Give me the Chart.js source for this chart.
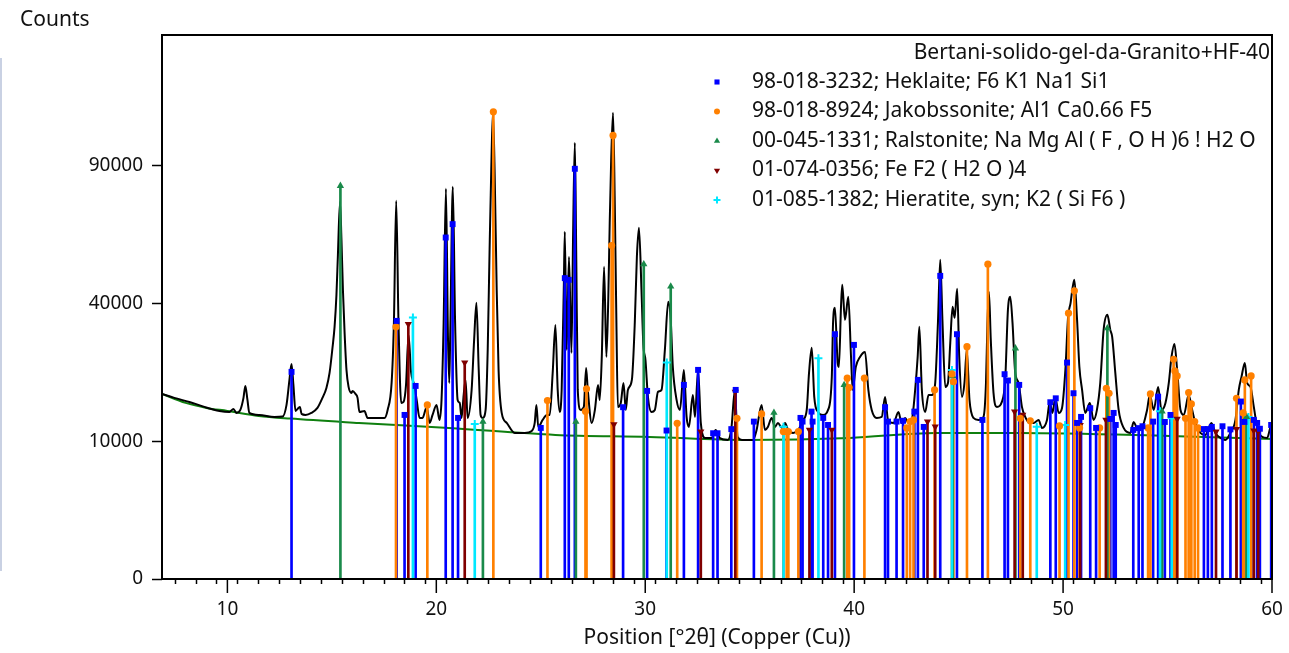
<!DOCTYPE html>
<html>
<head>
<meta charset="utf-8">
<title>XRD pattern</title>
<script src="https://cdn.jsdelivr.net/npm/chart.js@4.4.1/dist/chart.umd.min.js"></script>
<style>
  html, body { margin: 0; padding: 0; background: #fff; }
  canvas { display: block; }
</style>
</head>
<body>
<canvas id="xrd" width="1289" height="653"></canvas>
<script>
// measured profile, position in °2θ and counts
const profilePos = [6.87, 7.46, 8.18, 8.90, 9.62, 10.10, 10.29, 10.43, 10.62, 10.77, 10.86, 10.96, 11.05, 11.53, 12.25, 12.64, 12.83, 12.97, 13.07, 13.16, 13.26, 13.40, 13.47, 13.55, 13.74, 14.02, 14.31, 14.55, 14.74, 14.89, 15.03, 15.13, 15.22, 15.29, 15.39, 15.46, 15.53, 15.61, 15.70, 15.80, 15.94, 15.99, 16.13, 16.23, 16.32, 16.56, 16.71, 17.52, 17.67, 17.86, 17.97, 18.08, 18.19, 18.32, 18.43, 18.55, 18.67, 18.79, 18.94, 19.06, 19.20, 19.34, 19.54, 19.68, 19.82, 20.01, 20.15, 20.25, 20.35, 20.46, 20.56, 20.62, 20.67, 20.79, 20.90, 21.02, 21.12, 21.21, 21.31, 21.40, 21.50, 21.69, 21.81, 21.92, 22.03, 22.12, 22.22, 22.36, 22.46, 22.55, 22.63, 22.71, 22.79, 22.89, 22.98, 23.13, 23.37, 23.75, 24.23, 24.57, 24.71, 24.79, 24.88, 25.09, 25.29, 25.43, 25.57, 25.70, 25.81, 25.91, 26.00, 26.10, 26.15, 26.24, 26.35, 26.47, 26.55, 26.63, 26.70, 26.77, 26.91, 27.06, 27.17, 27.25, 27.44, 27.59, 27.74, 27.82, 27.92, 28.03, 28.14, 28.23, 28.30, 28.37, 28.46, 28.54, 28.62, 28.69, 28.83, 28.96, 29.07, 29.17, 29.36, 29.50, 29.60, 29.70, 29.82, 29.91, 30.01, 30.13, 30.30, 30.46, 30.61, 30.78, 30.94, 31.10, 31.22, 31.32, 31.50, 31.66, 31.85, 31.98, 32.09, 32.28, 32.38, 32.53, 32.66, 32.86, 33.18, 33.37, 33.57, 33.96, 34.13, 34.29, 34.42, 34.63, 35.16, 35.33, 35.57, 35.73, 35.87, 36.05, 36.21, 36.35, 36.55, 36.69, 36.84, 37.08, 37.32, 37.56, 37.73, 37.84, 37.97, 38.09, 38.27, 38.51, 38.75, 38.93, 38.99, 39.08, 39.21, 39.27, 39.37, 39.43, 39.56, 39.72, 39.85, 39.93, 40.08, 40.28, 40.52, 40.68, 40.84, 41.08, 41.32, 41.48, 41.62, 41.88, 42.12, 42.27, 42.44, 42.60, 42.76, 42.92, 43.04, 43.12, 43.24, 43.40, 43.56, 43.73, 43.88, 44.01, 44.12, 44.23, 44.36, 44.49, 44.60, 44.71, 44.81, 44.93, 45.03, 45.16, 45.28, 45.39, 45.52, 45.71, 45.95, 46.19, 46.31, 46.38, 46.45, 46.54, 46.67, 46.83, 47.07, 47.23, 47.36, 47.47, 47.58, 47.71, 47.87, 48.03, 48.19, 48.38, 48.59, 48.83, 48.99, 49.23, 49.36, 49.49, 49.63, 49.79, 49.95, 50.11, 50.24, 50.36, 50.44, 50.54, 50.67, 50.78, 50.91, 51.06, 51.28, 51.46, 51.62, 51.78, 51.94, 52.12, 52.26, 52.35, 52.50, 52.66, 52.90, 53.22, 53.38, 53.54, 53.78, 54.02, 54.15, 54.34, 54.55, 54.71, 54.90, 55.06, 55.19, 55.33, 55.46, 55.62, 55.78, 56.01, 56.18, 56.33, 56.57, 56.81, 57.10, 57.29, 57.53, 57.77, 58.01, 58.25, 58.41, 58.54, 58.70, 58.81, 58.97, 59.13, 59.29, 59.53, 59.77, 59.93, 60.00];
const profileCounts = [18060, 17290, 16530, 15610, 14890, 14716, 15250, 14540, 15070, 17290, 19655, 16907, 14540, 14190, 13850, 13900, 15975, 20896, 24390, 19860, 14890, 15430, 15610, 14370, 14190, 14540, 15430, 17290, 19250, 22390, 28160, 33510, 42560, 55390, 75000, 60640, 44070, 31930, 23050, 19450, 18255, 18650, 18060, 17290, 14716, 14890, 13680, 13680, 15070, 20270, 34580, 75390, 34580, 16345, 16530, 19860, 31415, 22610, 19860, 16907, 13680, 13680, 15610, 12840, 14190, 15975, 13340, 16907, 34580, 80260, 30140, 20270, 32720, 81080, 34580, 16907, 16345, 13680, 17865, 20896, 13680, 18850, 30140, 40195, 23050, 14190, 13680, 15070, 27670, 57110, 88270, 115080, 88270, 44070, 23050, 14540, 12840, 11250, 11250, 11560, 12840, 15975, 12190, 13340, 14190, 14190, 22390, 34040, 18850, 14716, 18850, 44070, 63540, 27670, 54710, 26950, 64270, 100300, 53700, 18850, 15070, 15610, 23490, 18850, 12840, 15070, 19860, 16907, 26005, 51360, 26005, 41070, 66870, 92640, 114590, 75800, 34580, 15610, 16345, 20270, 15070, 18850, 20896, 34580, 54710, 65010, 44070, 28890, 25310, 17480, 14716, 15070, 18450, 18850, 27670, 40490, 35400, 23715, 16907, 15070, 23050, 13850, 12190, 17865, 13850, 23050, 12840, 10490, 10490, 11715, 10490, 10195, 12190, 18850, 10640, 10195, 10195, 11715, 15975, 11715, 12190, 13680, 12190, 12840, 12030, 12840, 11715, 11250, 11715, 13340, 15070, 22390, 28160, 17480, 14716, 14190, 15070, 21530, 34580, 38750, 24620, 23715, 39040, 45610, 35400, 41960, 26005, 18850, 23715, 26005, 27190, 18850, 15070, 13680, 13850, 17480, 13340, 12840, 14716, 12840, 13680, 12840, 13340, 18850, 26005, 33510, 18850, 14716, 17865, 17865, 20270, 34580, 53700, 34580, 19450, 20270, 29390, 39040, 35950, 44380, 26005, 17480, 20270, 27670, 16907, 13680, 13340, 13850, 20270, 34580, 43460, 30140, 18255, 15610, 16530, 20896, 38180, 41960, 34580, 22390, 20270, 15610, 13850, 12840, 12840, 13340, 12030, 13340, 16530, 14540, 17290, 14540, 15430, 23050, 36220, 40195, 44070, 47170, 35400, 23715, 18850, 14540, 16345, 13340, 15070, 20270, 32720, 36780, 32720, 30900, 22390, 15070, 12030, 11250, 13010, 12030, 12190, 15070, 17865, 15070, 19450, 15070, 16345, 20270, 26005, 29140, 23050, 15070, 14190, 17865, 15070, 12840, 11250, 10940, 12840, 11250, 10490, 10195, 11250, 13340, 18850, 21530, 24620, 20270, 19450, 15610, 12190, 10640, 10490, 12190, 12500];

// fitted background
const backgroundPos = [6.87, 8.0, 9.0, 10.0, 11.5, 13.0, 16.3, 20.6, 25.7, 30.2, 34.8, 39.8, 43.9, 47.9, 55.1, 60.0];
const backgroundCounts = [18060, 16350, 15430, 14890, 14020, 13560, 12840, 12030, 10940, 10640, 10195, 10490, 11250, 11250, 10790, 10340];

// reference patterns (stick position, marker height in counts)
const heklaitePos = [13.07, 18.10, 18.48, 19.01, 20.45, 20.78, 21.04, 25.00, 26.15, 26.34, 26.63, 28.94, 30.09, 31.02, 31.85, 32.53, 33.25, 33.46, 34.12, 34.33, 35.20, 37.43, 37.53, 37.96, 38.01, 38.52, 38.75, 39.08, 39.99, 41.48, 41.62, 42.03, 42.34, 42.88, 43.05, 43.33, 44.12, 44.92, 46.14, 47.20, 47.36, 47.90, 49.39, 49.65, 50.19, 50.50, 50.67, 50.86, 51.30, 51.58, 52.26, 52.42, 52.52, 53.36, 53.62, 53.80, 54.31, 54.55, 54.87, 55.14, 56.74, 56.93, 57.12, 57.63, 58.01, 58.51, 58.68, 59.13, 59.29, 59.42, 59.96];
const heklaiteCounts = [22610, 35120, 14190, 19650, 61470, 66380, 13680, 12030, 47710, 47170, 88700, 15560, 18650, 11620, 19860, 23050, 11200, 11200, 11840, 18850, 13060, 13680, 13060, 14770, 13060, 13680, 12510, 31590, 28890, 15560, 13060, 13060, 13200, 14770, 20900, 12190, 48440, 31590, 13340, 22110, 20770, 19860, 16470, 17210, 24690, 18190, 12840, 13850, 15380, 12030, 13500, 14540, 12510, 11720, 12000, 12300, 13060, 17520, 13000, 14190, 11850, 11850, 12200, 12300, 11800, 16600, 13000, 13340, 12840, 11900, 12510];

const jakobssonitePos = [18.07, 19.57, 22.73, 25.32, 27.14, 27.19, 28.39, 28.46, 31.53, 34.39, 35.57, 36.61, 36.77, 36.85, 37.33, 39.67, 39.76, 40.49, 42.52, 42.68, 42.84, 43.85, 44.68, 44.75, 45.40, 46.40, 47.95, 48.43, 49.83, 50.26, 50.54, 50.79, 51.75, 52.07, 52.20, 54.07, 54.18, 55.29, 55.35, 55.46, 55.86, 56.01, 56.14, 56.30, 56.46, 58.30, 58.62, 58.70, 59.00];
const jakobssoniteCounts = [33510, 15975, 115080, 16790, 14820, 19060, 58620, 103700, 12790, 13620, 14360, 11450, 11450, 11450, 11450, 21250, 19330, 21250, 12030, 13060, 13340, 18850, 22170, 20530, 28460, 52260, 13620, 13200, 12350, 37250, 43770, 12030, 12030, 19170, 18190, 12030, 18060, 25460, 22830, 21740, 13620, 18320, 16160, 13060, 12030, 17210, 14540, 20900, 21740];

const ralstonitePos = [15.41, 22.23, 26.68, 29.93, 31.22, 36.16, 39.52, 44.72, 47.72, 52.12, 54.74, 58.78];
const ralstoniteCounts = [81500, 13060, 13060, 52260, 45110, 14600, 19860, 21740, 28050, 33140, 14820, 13850];

const feF2Pos = [18.66, 21.36, 28.50, 32.66, 34.31, 37.86, 38.93, 43.51, 43.88, 47.68, 48.07, 50.82, 52.05, 55.46, 57.32, 58.30, 59.13, 59.34];
const feF2Counts = [34240, 24690, 12620, 11450, 18450, 11715, 11715, 13060, 12230, 14770, 14190, 12500, 13340, 13500, 11450, 11840, 11620, 11450];

const hieratitePos = [18.88, 21.84, 31.03, 36.62, 38.29, 44.68, 48.74, 50.10, 54.64, 55.20, 58.87];
const hieratiteCounts = [36040, 12680, 24690, 12230, 25680, 23050, 12230, 12510, 14820, 13620, 13850];

const phaseLabels = [
  '98-018-3232; Heklaite; F6 K1 Na1 Si1',
  '98-018-8924; Jakobssonite; Al1 Ca0.66 F5',
  '00-045-1331; Ralstonite; Na Mg Al ( F , O H )6 ! H2 O',
  '01-074-0356; Fe F2 ( H2 O )4',
  '01-085-1382; Hieratite, syn; K2 ( Si F6 )'
];
const sampleName = 'Bertani-solido-gel-da-Granito+HF-40';
const yTicks = [0, 10000, 40000, 90000];

const FONT = '"Noto Sans", "Open Sans", sans-serif';

// square-root intensity axis, as in the original software
class SqrtScale extends Chart.LinearScale {
  buildTicks() {
    return yTicks.map(v => ({ value: v }));
  }
  getPixelForValue(value) {
    if (value === null || isNaN(value)) return NaN;
    const lo = Math.sqrt(this.min), hi = Math.sqrt(this.max);
    return this.getPixelForDecimal((Math.sqrt(Math.max(value, 0)) - lo) / (hi - lo));
  }
  getValueForPixel(pixel) {
    const lo = Math.sqrt(this.min), hi = Math.sqrt(this.max);
    const s = lo + this.getDecimalForPixel(pixel) * (hi - lo);
    return s * s;
  }
}
SqrtScale.id = 'sqrt';
SqrtScale.defaults = {};
Chart.register(SqrtScale);

const toPoints = (xs, ys) => xs.map((x, i) => ({ x: x, y: ys[i] }));

const phases = [
  { pos: heklaitePos, counts: heklaiteCounts, color: '#0000ff', style: 'rect', radius: 4.2, rotation: 0 },
  { pos: jakobssonitePos, counts: jakobssoniteCounts, color: '#ff8000', style: 'circle', radius: 3.6, rotation: 0 },
  { pos: ralstonitePos, counts: ralstoniteCounts, color: '#1a8a4a', style: 'triangle', radius: 4.2, rotation: 0 },
  { pos: feF2Pos, counts: feF2Counts, color: '#800000', style: 'triangle', radius: 4.2, rotation: 180 },
  { pos: hieratitePos, counts: hieratiteCounts, color: '#00e8ff', style: 'cross', radius: 4, rotation: 0 }
];

const datasets = [];
phases.forEach((p, i) => {
  datasets.push({
    type: 'scatter',
    label: phaseLabels[i],
    data: toPoints(p.pos, p.counts),
    showLine: false,
    pointStyle: p.style,
    pointRadius: p.radius,
    pointRotation: p.rotation,
    pointBackgroundColor: p.color,
    pointBorderColor: p.color,
    pointBorderWidth: p.style === 'cross' ? 2 : 0,
    order: 0
  });
});
phases.forEach((p, i) => {
  datasets.push({
    type: 'bar',
    label: phaseLabels[i] + ' sticks',
    data: toPoints(p.pos, p.counts),
    backgroundColor: p.color,
    borderWidth: 0,
    barThickness: 2,
    grouped: false,
    order: 1 + (4 - i)
  });
});
datasets.push({
  type: 'line',
  label: sampleName,
  data: toPoints(profilePos, profileCounts),
  borderColor: '#000',
  borderWidth: 2,
  pointRadius: 0,
  cubicInterpolationMode: 'monotone',
  order: 10
});
datasets.push({
  type: 'line',
  label: 'Background',
  data: toPoints(backgroundPos, backgroundCounts),
  borderColor: '#0f7f0f',
  borderWidth: 2,
  pointRadius: 0,
  cubicInterpolationMode: 'monotone',
  order: 11
});

const decorations = {
  id: 'decorations',
  afterDraw(chart) {
    const { ctx, chartArea: a, scales } = chart;
    const x = scales.x;
    ctx.save();

    // plot frame
    ctx.strokeStyle = '#000';
    ctx.lineWidth = 2;
    ctx.strokeRect(a.left, a.top, a.right - a.left, a.bottom - a.top);

    // longer marks every 10 degrees
    ctx.lineWidth = 1.5;
    x.ticks.forEach(t => {
      if (t.value % 10 === 0) {
        const px = x.getPixelForValue(t.value);
        ctx.beginPath();
        ctx.moveTo(px, a.bottom);
        ctx.lineTo(px, a.bottom + 14);
        ctx.stroke();
      }
    });

    // thin line at the left edge of the original window
    ctx.strokeStyle = '#c9d1e3';
    ctx.lineWidth = 2;
    ctx.beginPath();
    ctx.moveTo(1, 58);
    ctx.lineTo(1, 571);
    ctx.stroke();

    // axis caption
    ctx.fillStyle = '#111';
    ctx.font = '21px ' + FONT;
    ctx.textAlign = 'left';
    ctx.textBaseline = 'middle';
    ctx.fillText('Counts', 20, 20);

    // legend in the upper right corner
    ctx.textAlign = 'right';
    ctx.fillText(sampleName, 1270, 53);
    ctx.textAlign = 'left';
    phases.forEach((p, i) => {
      const y = 82 + i * 29.5;
      ctx.fillStyle = p.color;
      ctx.strokeStyle = p.color;
      Chart.helpers.drawPoint(ctx, {
        pointStyle: p.style,
        radius: p.style === 'cross' ? 3.5 : p.radius - 0.6,
        rotation: p.rotation,
        borderWidth: p.style === 'cross' ? 2 : 0
      }, 717, y);
      ctx.fillStyle = '#111';
      ctx.fillText(phaseLabels[i], 752, y);
    });
    ctx.restore();
  }
};

new Chart(document.getElementById('xrd'), {
  type: 'scatter',
  data: { datasets: datasets },
  options: {
    responsive: false,
    animation: false,
    layout: { padding: { top: 35, right: 17, left: 0, bottom: 0 } },
    plugins: {
      legend: { display: false },
      tooltip: { enabled: false }
    },
    scales: {
      x: {
        type: 'linear',
        min: 6.87,
        max: 60,
        offset: false,
        afterFit: s => { s.height = 74; s.paddingLeft = 0; s.paddingRight = 0; },
        grid: { drawOnChartArea: false, tickLength: 5, tickColor: '#000', tickWidth: 1.5 },
        border: { display: false },
        ticks: {
          stepSize: 1,
          includeBounds: false,
          autoSkip: false,
          maxRotation: 0,
          minRotation: 0,
          padding: 14,
          color: '#111',
          font: { family: FONT, size: 19 },
          callback: v => (v % 10 === 0 ? String(v) : '')
        },
        title: {
          display: true,
          text: 'Position [°2θ] (Copper (Cu))',
          color: '#111',
          font: { family: FONT, size: 21 },
          padding: { top: 0, bottom: 2 }
        }
      },
      y: {
        type: 'sqrt',
        min: 0,
        max: 156000,
        afterFit: s => { s.width = 162; s.paddingTop = 0; s.paddingBottom = 0; },
        grid: { drawOnChartArea: false, tickLength: 10, tickColor: '#000', tickWidth: 1.5 },
        border: { display: false },
        ticks: {
          padding: 9,
          color: '#111',
          font: { family: FONT, size: 19 },
          callback: v => String(v)
        }
      }
    }
  },
  plugins: [decorations]
});
</script>
</body>
</html>
